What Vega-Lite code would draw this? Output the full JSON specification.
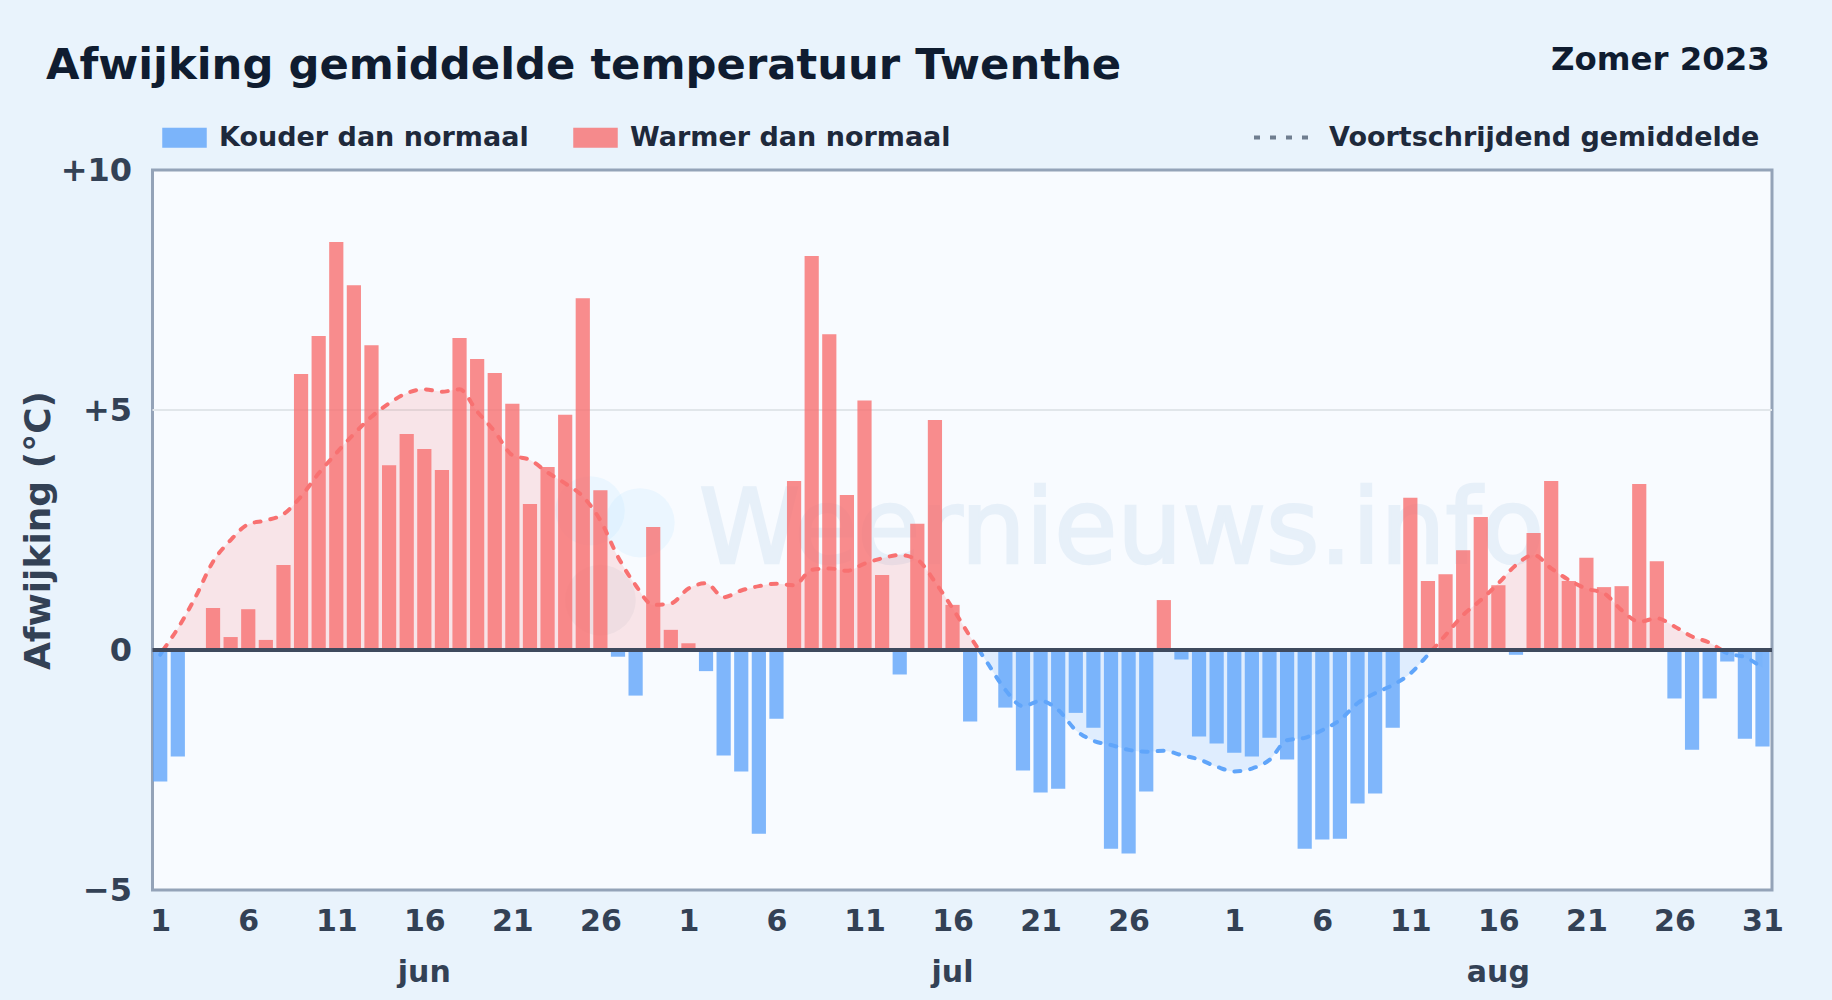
{
"$schema":"https://vega.github.io/schema/vega-lite/v6.json",
"autosize":{"type":"none"},
"width":1619.5,"height":720,
"padding":{"left":152.5,"top":170,"right":60,"bottom":110},
"background":"#e9f3fc",
"view":{"fill":"#f8fbff","stroke":"#94a3b8","strokeWidth":3},
"config":{"font":"DejaVu Sans"},
"datasets":{
"dagen":[
{"d":"2023-06-01","v":-2.74,"t":"K"},{"d":"2023-06-02","v":-2.22,"t":"K"},{"d":"2023-06-03","v":0,"t":"W"},{"d":"2023-06-04","v":0.875,"t":"W"},{"d":"2023-06-05","v":0.27,"t":"W"},{"d":"2023-06-06","v":0.85,"t":"W"},{"d":"2023-06-07","v":0.21,"t":"W"},{"d":"2023-06-08","v":1.77,"t":"W"},{"d":"2023-06-09","v":5.75,"t":"W"},{"d":"2023-06-10","v":6.54,"t":"W"},
{"d":"2023-06-11","v":8.5,"t":"W"},{"d":"2023-06-12","v":7.6,"t":"W"},{"d":"2023-06-13","v":6.35,"t":"W"},{"d":"2023-06-14","v":3.85,"t":"W"},{"d":"2023-06-15","v":4.5,"t":"W"},{"d":"2023-06-16","v":4.19,"t":"W"},{"d":"2023-06-17","v":3.75,"t":"W"},{"d":"2023-06-18","v":6.5,"t":"W"},{"d":"2023-06-19","v":6.06,"t":"W"},{"d":"2023-06-20","v":5.77,"t":"W"},
{"d":"2023-06-21","v":5.13,"t":"W"},{"d":"2023-06-22","v":3.04,"t":"W"},{"d":"2023-06-23","v":3.81,"t":"W"},{"d":"2023-06-24","v":4.9,"t":"W"},{"d":"2023-06-25","v":7.33,"t":"W"},{"d":"2023-06-26","v":3.33,"t":"W"},{"d":"2023-06-27","v":-0.14,"t":"K"},{"d":"2023-06-28","v":-0.95,"t":"K"},{"d":"2023-06-29","v":2.56,"t":"W"},{"d":"2023-06-30","v":0.42,"t":"W"},
{"d":"2023-07-01","v":0.14,"t":"W"},{"d":"2023-07-02","v":-0.44,"t":"K"},{"d":"2023-07-03","v":-2.2,"t":"K"},{"d":"2023-07-04","v":-2.53,"t":"K"},{"d":"2023-07-05","v":-3.83,"t":"K"},{"d":"2023-07-06","v":-1.43,"t":"K"},{"d":"2023-07-07","v":3.52,"t":"W"},{"d":"2023-07-08","v":8.21,"t":"W"},{"d":"2023-07-09","v":6.58,"t":"W"},{"d":"2023-07-10","v":3.23,"t":"W"},
{"d":"2023-07-11","v":5.2,"t":"W"},{"d":"2023-07-12","v":1.56,"t":"W"},{"d":"2023-07-13","v":-0.51,"t":"K"},{"d":"2023-07-14","v":2.63,"t":"W"},{"d":"2023-07-15","v":4.79,"t":"W"},{"d":"2023-07-16","v":0.94,"t":"W"},{"d":"2023-07-17","v":-1.49,"t":"K"},{"d":"2023-07-18","v":0,"t":"K"},{"d":"2023-07-19","v":-1.2,"t":"K"},{"d":"2023-07-20","v":-2.51,"t":"K"},
{"d":"2023-07-21","v":-2.97,"t":"K"},{"d":"2023-07-22","v":-2.89,"t":"K"},{"d":"2023-07-23","v":-1.31,"t":"K"},{"d":"2023-07-24","v":-1.62,"t":"K"},{"d":"2023-07-25","v":-4.14,"t":"K"},{"d":"2023-07-26","v":-4.24,"t":"K"},{"d":"2023-07-27","v":-2.95,"t":"K"},{"d":"2023-07-28","v":1.04,"t":"W"},{"d":"2023-07-29","v":-0.2,"t":"K"},{"d":"2023-07-30","v":-1.8,"t":"K"},{"d":"2023-07-31","v":-1.95,"t":"K"},
{"d":"2023-08-01","v":-2.14,"t":"K"},{"d":"2023-08-02","v":-2.22,"t":"K"},{"d":"2023-08-03","v":-1.83,"t":"K"},{"d":"2023-08-04","v":-2.28,"t":"K"},{"d":"2023-08-05","v":-4.14,"t":"K"},{"d":"2023-08-06","v":-3.95,"t":"K"},{"d":"2023-08-07","v":-3.93,"t":"K"},{"d":"2023-08-08","v":-3.2,"t":"K"},{"d":"2023-08-09","v":-2.99,"t":"K"},{"d":"2023-08-10","v":-1.62,"t":"K"},
{"d":"2023-08-11","v":3.17,"t":"W"},{"d":"2023-08-12","v":1.44,"t":"W"},{"d":"2023-08-13","v":1.58,"t":"W"},{"d":"2023-08-14","v":2.08,"t":"W"},{"d":"2023-08-15","v":2.77,"t":"W"},{"d":"2023-08-16","v":1.35,"t":"W"},{"d":"2023-08-17","v":-0.1,"t":"K"},{"d":"2023-08-18","v":2.44,"t":"W"},{"d":"2023-08-19","v":3.52,"t":"W"},{"d":"2023-08-20","v":1.44,"t":"W"},
{"d":"2023-08-21","v":1.92,"t":"W"},{"d":"2023-08-22","v":1.31,"t":"W"},{"d":"2023-08-23","v":1.33,"t":"W"},{"d":"2023-08-24","v":3.46,"t":"W"},{"d":"2023-08-25","v":1.85,"t":"W"},{"d":"2023-08-26","v":-1.01,"t":"K"},{"d":"2023-08-27","v":-2.08,"t":"K"},{"d":"2023-08-28","v":-1.01,"t":"K"},{"d":"2023-08-29","v":-0.24,"t":"K"},{"d":"2023-08-30","v":-1.85,"t":"K"},{"d":"2023-08-31","v":-2.01,"t":"K"}
],
"gemiddelde":[
{"d":"2023-06-01T00:00:00Z","m":-0.1,"t":"K","s":1},{"d":"2023-06-01T04:00:00Z","m":0,"t":"K","s":1},
{"d":"2023-06-01T04:00:00Z","m":0,"t":"W","s":2},{"d":"2023-06-02","m":0.45,"t":"W","s":2},{"d":"2023-06-03","m":1.1,"t":"W","s":2},{"d":"2023-06-04","m":1.84,"t":"W","s":2},{"d":"2023-06-05","m":2.29,"t":"W","s":2},{"d":"2023-06-06","m":2.62,"t":"W","s":2},{"d":"2023-06-07","m":2.7,"t":"W","s":2},{"d":"2023-06-08","m":2.83,"t":"W","s":2},{"d":"2023-06-09","m":3.2,"t":"W","s":2},{"d":"2023-06-10","m":3.68,"t":"W","s":2},
{"d":"2023-06-11","m":4.1,"t":"W","s":2},{"d":"2023-06-12","m":4.5,"t":"W","s":2},{"d":"2023-06-13","m":4.86,"t":"W","s":2},{"d":"2023-06-14","m":5.14,"t":"W","s":2},{"d":"2023-06-15","m":5.35,"t":"W","s":2},{"d":"2023-06-16","m":5.43,"t":"W","s":2},{"d":"2023-06-17","m":5.38,"t":"W","s":2},{"d":"2023-06-18","m":5.43,"t":"W","s":2},{"d":"2023-06-19","m":4.97,"t":"W","s":2},{"d":"2023-06-20","m":4.55,"t":"W","s":2},
{"d":"2023-06-21","m":4.06,"t":"W","s":2},{"d":"2023-06-22","m":3.96,"t":"W","s":2},{"d":"2023-06-23","m":3.7,"t":"W","s":2},{"d":"2023-06-24","m":3.47,"t":"W","s":2},{"d":"2023-06-25","m":3.2,"t":"W","s":2},{"d":"2023-06-26","m":2.7,"t":"W","s":2},{"d":"2023-06-27","m":1.94,"t":"W","s":2},{"d":"2023-06-28","m":1.35,"t":"W","s":2},{"d":"2023-06-29","m":0.94,"t":"W","s":2},{"d":"2023-06-30","m":0.97,"t":"W","s":2},
{"d":"2023-07-01","m":1.28,"t":"W","s":2},{"d":"2023-07-02","m":1.39,"t":"W","s":2},{"d":"2023-07-03","m":1.1,"t":"W","s":2},{"d":"2023-07-04","m":1.24,"t":"W","s":2},{"d":"2023-07-05","m":1.33,"t":"W","s":2},{"d":"2023-07-06","m":1.38,"t":"W","s":2},{"d":"2023-07-07","m":1.35,"t":"W","s":2},{"d":"2023-07-08","m":1.67,"t":"W","s":2},{"d":"2023-07-09","m":1.7,"t":"W","s":2},{"d":"2023-07-10","m":1.65,"t":"W","s":2},
{"d":"2023-07-11","m":1.8,"t":"W","s":2},{"d":"2023-07-12","m":1.91,"t":"W","s":2},{"d":"2023-07-13","m":1.98,"t":"W","s":2},{"d":"2023-07-14","m":1.88,"t":"W","s":2},{"d":"2023-07-15","m":1.42,"t":"W","s":2},{"d":"2023-07-16","m":0.87,"t":"W","s":2},{"d":"2023-07-17","m":0.28,"t":"W","s":2},{"d":"2023-07-17T12:00:00Z","m":0,"t":"W","s":2},
{"d":"2023-07-17T12:00:00Z","m":0,"t":"K","s":3},{"d":"2023-07-18","m":-0.28,"t":"K","s":3},{"d":"2023-07-19","m":-0.83,"t":"K","s":3},{"d":"2023-07-20","m":-1.17,"t":"K","s":3},{"d":"2023-07-21","m":-1.06,"t":"K","s":3},{"d":"2023-07-22","m":-1.25,"t":"K","s":3},{"d":"2023-07-23","m":-1.67,"t":"K","s":3},{"d":"2023-07-24","m":-1.89,"t":"K","s":3},{"d":"2023-07-25","m":-1.98,"t":"K","s":3},{"d":"2023-07-26","m":-2.08,"t":"K","s":3},{"d":"2023-07-27","m":-2.12,"t":"K","s":3},{"d":"2023-07-28","m":-2.1,"t":"K","s":3},{"d":"2023-07-29","m":-2.19,"t":"K","s":3},{"d":"2023-07-30","m":-2.28,"t":"K","s":3},{"d":"2023-07-31","m":-2.43,"t":"K","s":3},
{"d":"2023-08-01","m":-2.53,"t":"K","s":3},{"d":"2023-08-02","m":-2.47,"t":"K","s":3},{"d":"2023-08-03","m":-2.29,"t":"K","s":3},{"d":"2023-08-04","m":-1.88,"t":"K","s":3},{"d":"2023-08-05","m":-1.83,"t":"K","s":3},{"d":"2023-08-06","m":-1.67,"t":"K","s":3},{"d":"2023-08-07","m":-1.46,"t":"K","s":3},{"d":"2023-08-08","m":-1.11,"t":"K","s":3},{"d":"2023-08-09","m":-0.9,"t":"K","s":3},{"d":"2023-08-10","m":-0.73,"t":"K","s":3},{"d":"2023-08-11","m":-0.49,"t":"K","s":3},{"d":"2023-08-12","m":-0.1,"t":"K","s":3},{"d":"2023-08-12T06:00:00Z","m":0,"t":"K","s":3},
{"d":"2023-08-12T06:00:00Z","m":0,"t":"W","s":4},{"d":"2023-08-13","m":0.31,"t":"W","s":4},{"d":"2023-08-14","m":0.73,"t":"W","s":4},{"d":"2023-08-15","m":1.04,"t":"W","s":4},{"d":"2023-08-16","m":1.39,"t":"W","s":4},{"d":"2023-08-17","m":1.77,"t":"W","s":4},{"d":"2023-08-18","m":1.98,"t":"W","s":4},{"d":"2023-08-19","m":1.7,"t":"W","s":4},{"d":"2023-08-20","m":1.46,"t":"W","s":4},{"d":"2023-08-21","m":1.28,"t":"W","s":4},{"d":"2023-08-22","m":1.18,"t":"W","s":4},{"d":"2023-08-23","m":0.83,"t":"W","s":4},{"d":"2023-08-24","m":0.59,"t":"W","s":4},{"d":"2023-08-25","m":0.66,"t":"W","s":4},{"d":"2023-08-26","m":0.49,"t":"W","s":4},{"d":"2023-08-27","m":0.28,"t":"W","s":4},{"d":"2023-08-28","m":0.15,"t":"W","s":4},{"d":"2023-08-28T16:00:00Z","m":0,"t":"W","s":4},
{"d":"2023-08-28T16:00:00Z","m":0,"t":"K","s":5},{"d":"2023-08-29","m":-0.07,"t":"K","s":5},{"d":"2023-08-30","m":-0.15,"t":"K","s":5},{"d":"2023-08-31","m":-0.37,"t":"K","s":5}
]
},
"encoding":{
"x":{"field":"d","type":"temporal","title":null,
"scale":{"type":"utc","nice":false,"padding":0,"domain":[{"year":2023,"month":5,"date":31,"hours":13,"minutes":30,"utc":true},{"year":2023,"month":8,"date":31,"hours":12,"minutes":58,"utc":true}]},
"axis":{"domain":false,"ticks":false,"grid":false,"format":"%-d","labelFlush":false,"labelOverlap":false,"labelFont":"DejaVu Sans","labelFontSize":30,"labelFontWeight":"bold","labelColor":"#334155","labelPadding":16,"labelAngle":0,"values":[
{"year":2023,"month":6,"date":1,"utc":true},{"year":2023,"month":6,"date":6,"utc":true},{"year":2023,"month":6,"date":11,"utc":true},{"year":2023,"month":6,"date":16,"utc":true},{"year":2023,"month":6,"date":21,"utc":true},{"year":2023,"month":6,"date":26,"utc":true},
{"year":2023,"month":7,"date":1,"utc":true},{"year":2023,"month":7,"date":6,"utc":true},{"year":2023,"month":7,"date":11,"utc":true},{"year":2023,"month":7,"date":16,"utc":true},{"year":2023,"month":7,"date":21,"utc":true},{"year":2023,"month":7,"date":26,"utc":true},
{"year":2023,"month":8,"date":1,"utc":true},{"year":2023,"month":8,"date":6,"utc":true},{"year":2023,"month":8,"date":11,"utc":true},{"year":2023,"month":8,"date":16,"utc":true},{"year":2023,"month":8,"date":21,"utc":true},{"year":2023,"month":8,"date":26,"utc":true},{"year":2023,"month":8,"date":31,"utc":true}]}}
},
"layer":[
{"data":{"values":[{"d":"2023-05-31T13:30:00Z","e":"2023-08-31T12:58:00Z","z":5}]},
 "mark":{"type":"rule","color":"#e1e6ea","strokeWidth":2},
 "encoding":{"x2":{"field":"e"},"y":{"field":"z","type":"quantitative","scale":{"domain":[-5,10],"nice":false},"title":"Afwijking (°C)",
   "axis":{"values":[-5,0,5,10],"domain":false,"ticks":false,"grid":false,"labelExpr":"datum.value>0?'+'+datum.value:datum.value<0?'−'+abs(datum.value):'0'","labelFont":"DejaVu Sans","labelFontSize":32,"labelFontWeight":"bold","labelColor":"#334155","labelPadding":21,
   "titleFont":"DejaVu Sans","titleFontSize":36,"titleFontWeight":"bold","titleColor":"#334155","titleX":-95,"titleY":360}}}},
{"data":{"values":[{"d":"2023-06-25T10:00:00Z","y":2.9},{"d":"2023-06-28T06:00:00Z","y":2.65}]},
 "mark":{"type":"point","shape":"circle","filled":true,"size":4800,"color":"#bae6fd","opacity":0.2},
 "encoding":{"y":{"field":"y","type":"quantitative","scale":{"domain":[-5,10],"nice":false}}}},
{"data":{"values":[{"d":"2023-06-26","y":1.04}]},
 "mark":{"type":"point","shape":"circle","filled":true,"size":5000,"color":"#94a3b8","opacity":0.1},
 "encoding":{"y":{"field":"y","type":"quantitative","scale":{"domain":[-5,10],"nice":false}}}},
{"data":{"values":[{"d":"2023-07-25T14:24:00Z","y":1.81,"l":"Weernieuws.info"}]},
 "mark":{"type":"text","align":"center","baseline":"alphabetic","font":"DejaVu Sans","fontSize":102.5,"color":"#3b82c4","stroke":"#3b82c4","strokeWidth":2.5,"opacity":0.085},
 "encoding":{"y":{"field":"y","type":"quantitative","scale":{"domain":[-5,10],"nice":false}},"text":{"field":"l"}}},
{"data":{"name":"gemiddelde"},
 "mark":{"type":"area","interpolate":"monotone","fillOpacity":0.16},
 "encoding":{"y":{"field":"m","type":"quantitative","scale":{"domain":[-5,10],"nice":false}},"y2":{"datum":0},"detail":{"field":"s"},"fill":{"field":"t","type":"nominal"}}},
{"data":{"name":"dagen"},
 "mark":{"type":"bar","width":14.2,"opacity":0.8},
 "encoding":{"y":{"field":"v","type":"quantitative","scale":{"domain":[-5,10],"nice":false}},"fill":{"field":"t","type":"nominal","scale":{"domain":["K","W"],"range":["#60a5fa","#f87171"]},"legend":{"title":null,"orient":"none","legendX":9.5,"legendY":-55,"columns":2,"columnPadding":42,"symbolType":"M-1,-0.43H1V0.43H-1Z","symbolSize":1849,"symbolOpacity":0.8,"labelOffset":12,"labelFont":"DejaVu Sans","labelFontSize":27,"labelFontWeight":"bold","labelColor":"#1e293b","labelLimit":500,"labelExpr":"datum.value=='K'?'Kouder dan normaal':'Warmer dan normaal'","encode":{"symbols":{"update":{"opacity":{"value":0.8},"fillOpacity":{"value":1}}}}}}}},
{"data":{"name":"gemiddelde"},
 "mark":{"type":"line","interpolate":"monotone","strokeWidth":4,"strokeCap":"round"},
 "encoding":{"y":{"field":"m","type":"quantitative","scale":{"domain":[-5,10],"nice":false}},"detail":{"field":"s"},"color":{"field":"t","type":"nominal","legend":null,"scale":{"domain":["K","W"],"range":["#60a5fa","#f87171"]}},"strokeDash":{"datum":"Voortschrijdend gemiddelde","scale":{"range":[[6,10]]},"legend":{"title":null,"orient":"none","legendX":1099.5,"legendY":-62,"symbolType":"stroke","symbolSize":3025,"symbolStrokeWidth":4,"symbolDash":[6,9.5],"labelOffset":18,"labelFont":"DejaVu Sans","labelFontSize":27,"labelFontWeight":"bold","labelColor":"#1e293b","labelLimit":600,"encode":{"symbols":{"update":{"stroke":{"value":"#707e90"},"strokeCap":{"value":"butt"},"strokeDash":{"value":[6,10.3]}}}}}}}},
{"data":{"values":[{"d":"2023-05-31T13:30:00Z","e":"2023-08-31T12:58:00Z","z":0}]},
 "mark":{"type":"rule","color":"#3f4a5e","strokeWidth":4},
 "encoding":{"x2":{"field":"e"},"y":{"field":"z","type":"quantitative","scale":{"domain":[-5,10],"nice":false}}}},
{"data":{"values":[{"d":"2023-06-16","y":-6.73,"l":"jun"},{"d":"2023-07-16","y":-6.73,"l":"jul"},{"d":"2023-08-16","y":-6.73,"l":"aug"}]},
 "mark":{"type":"text","align":"center","baseline":"middle","font":"DejaVu Sans","fontSize":30,"fontWeight":"bold","color":"#334155"},
 "encoding":{"y":{"field":"y","type":"quantitative","scale":{"domain":[-5,10],"nice":false}},"text":{"field":"l"}}},
{"data":{"values":[{"d":"2023-08-31T10:00:00Z","y":12.08,"l":"Zomer 2023"}]},
 "mark":{"type":"text","align":"right","baseline":"alphabetic","font":"DejaVu Sans","fontSize":32.4,"fontWeight":"bold","color":"#0f1c30"},
 "encoding":{"y":{"field":"y","type":"quantitative","scale":{"domain":[-5,10],"nice":false}},"text":{"field":"l"}}},
{"data":{"values":[{"d":"2023-05-25T12:15:00Z","y":11.9,"l":"Afwijking gemiddelde temperatuur Twenthe"}]},
 "mark":{"type":"text","align":"left","baseline":"alphabetic","font":"DejaVu Sans","fontSize":43.3,"fontWeight":"bold","color":"#0f1c30"},
 "encoding":{"y":{"field":"y","type":"quantitative","scale":{"domain":[-5,10],"nice":false}},"text":{"field":"l"}}}
]
}
